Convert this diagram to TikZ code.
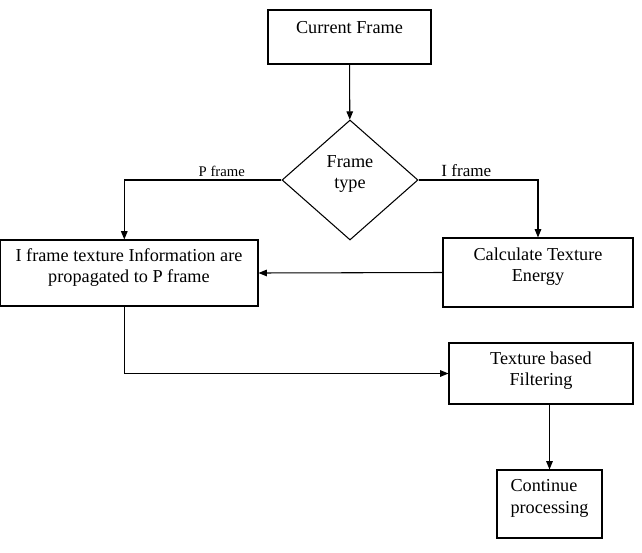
\documentclass[tikz,border=0pt]{standalone}
\usepackage{fontspec}
\setmainfont{Liberation Serif}
\usetikzlibrary{shapes.geometric,arrows.meta}
\newcommand{\px}{0.85pt}

\begin{document}
\begin{tikzpicture}[x=0.85pt,y=-0.85pt,
		font=\fontsize{15.5}{18}\selectfont,
		box/.style={draw,line width=0.9pt,inner sep=0pt,align=center},
		arr/.style={-{Triangle[length=7pt,width=5.5pt]},line width=0.9pt}]
			%\draw [help lines] (0,0) grid (642,553);
			\useasboundingbox (0,0) rectangle (642,553);
			\node[box,minimum width=163*\px,minimum height=54*\px,text depth=15.5pt] (cur) at (349.5,37) {Current Frame};
			\node[box,diamond,minimum width=136*\px,minimum height=120*\px,text depth=13.6pt] (ft) at (350,180) {Frame\\type};
			\node[box,minimum width=258*\px,minimum height=66*\px,text depth=12.8pt] (ifp) at (129,273) {I frame texture Information are\\propagated to P frame};
			\node[box,minimum width=190*\px,minimum height=69*\px,text depth=12.8pt] (cte) at (538,272.5) {Calculate Texture\\Energy};
			\node[box,minimum width=184*\px,minimum height=61*\px,text depth=8.5pt] (tbf) at (541,373.5) {Texture based\\Filtering};
			\node[box,align=left,minimum width=105*\px,minimum height=68*\px,text depth=12.8pt] (cp) at (549.5,504) {Continue\\processing};
			\draw[arr] (cur) -- (ft);
			\draw[arr] (ft.west) -| node[pos=0.19,above,inner sep=2pt,font=\fontsize{12.5}{14}\selectfont] (lblp) {P frame} ([xshift=-4pt]ifp.north);
			\draw[arr] (ft.east) -| node[pos=0.2,above,inner sep=2pt,font=\fontsize{14.5}{16}\selectfont] (lbli) {I frame} (cte.north);
			\draw[arr] (cte.west) -- (ifp.east);
			\draw[arr] ([xshift=-4pt]ifp.south) |- (tbf.west);
			\draw[arr] (tbf.south -| cp.north) -- (cp.north);
		\end{tikzpicture}
\end{document}
